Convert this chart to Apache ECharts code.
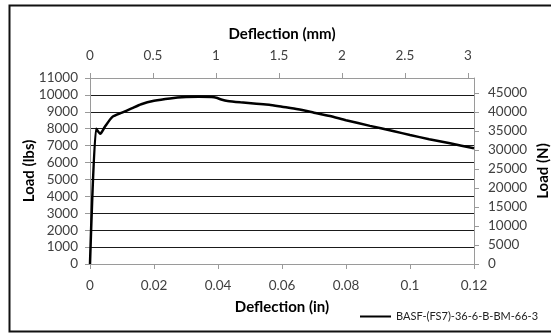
<!DOCTYPE html>
<html>
<head>
<meta charset="utf-8">
<script src="https://cdn.jsdelivr.net/npm/echarts@6/dist/echarts.min.js"></script>
<style>
  html, body { margin: 0; padding: 0; background: #fff; }
  #chart { width: 551px; height: 335px; }
</style>
</head>
<body>
<div id="chart"></div>
<script>
// Load–deflection record for one beam test (deflection in inches, load in lbs)
const seriesName = 'BASF-(FS7)-36-6-B-BM-66-3';
const deflectionIn = [0, 0.0019, 0.0032, 0.0046, 0.0070, 0.0100, 0.0130, 0.0160, 0.0200, 0.0250,
  0.0300, 0.0340, 0.0380, 0.0395, 0.0410, 0.0430, 0.0470, 0.0520, 0.0560, 0.0600,
  0.0650, 0.0700, 0.0750, 0.0800, 0.0875, 0.0950, 0.1000, 0.1060, 0.1125, 0.1200];
const loadLbs = [0, 8000, 7700, 8100, 8700, 8950, 9200, 9450, 9650, 9790,
  9870, 9890, 9870, 9830, 9730, 9640, 9560, 9480, 9420, 9300,
  9150, 8950, 8750, 8500, 8170, 7850, 7630, 7380, 7140, 6840];

// Axis ranges: primary in in / lbs, secondary converted to mm / N
const inMax = 0.12, inStep = 0.02;
const lbsMax = 11000, lbsStep = 1000;
const MM_PER_IN = 25.4, N_PER_LB = 4.448;
const mmStep = 0.5, nStep = 5000;

const font = 'Lato, "Open Sans", sans-serif';
const plain = v => String(+v.toFixed(4));
const labelStyle = { color: '#404040', fontSize: 13.5, fontFamily: font, formatter: plain };
const nameStyle = { color: '#000', fontSize: 15, fontWeight: 'bold', fontFamily: font };
const axisGray = { lineStyle: { color: '#9a9a9a', width: 1 } };

const chart = echarts.init(document.getElementById('chart'), null, { renderer: 'canvas' });
chart.setOption({
  animation: false,
  backgroundColor: '#fff',
  grid: { left: 90, right: 77, top: 78, bottom: 71, containLabel: false, outerBoundsMode: 'none' },
  graphic: [{
    type: 'rect', z: 100,
    shape: { x: 9.5, y: 5.5, width: 560, height: 326 },
    style: { fill: 'none', stroke: '#111', lineWidth: 2 }
  }],
  legend: {
    left: 355, top: 306,
    itemWidth: 31, itemHeight: 2, icon: 'rect', itemGap: 3,
    textStyle: { color: '#222', fontSize: 11, fontFamily: font },
    data: [seriesName]
  },
  xAxis: [{
    type: 'value', position: 'bottom',
    min: 0, max: inMax, interval: inStep,
    name: 'Deflection (in)', nameLocation: 'middle', nameGap: 36, nameMoveOverlap: false,
    nameTextStyle: nameStyle,
    axisLine: { show: true, onZero: false, ...axisGray },
    axisTick: { show: true, inside: false, length: 5, ...axisGray },
    axisLabel: { ...labelStyle, margin: 15 },
    splitLine: { show: false }
  }, {
    type: 'value', position: 'top',
    min: 0, max: inMax * MM_PER_IN, interval: mmStep,
    name: 'Deflection (mm)', nameLocation: 'middle', nameGap: 36, nameMoveOverlap: false,
    nameTextStyle: nameStyle,
    axisLine: { show: true, onZero: false, ...axisGray },
    axisTick: { show: true, inside: false, length: 5, ...axisGray },
    axisLabel: { ...labelStyle, margin: 15, showMaxLabel: false },
    splitLine: { show: false }
  }],
  yAxis: [{
    type: 'value', position: 'left',
    min: 0, max: lbsMax, interval: lbsStep,
    name: 'Load (lbs)', nameLocation: 'middle', nameGap: 53, nameRotate: 90, nameMoveOverlap: false,
    nameTextStyle: nameStyle,
    axisLine: { show: true, onZero: false, ...axisGray },
    axisTick: { show: true, inside: false, length: 5, ...axisGray },
    axisLabel: { ...labelStyle, margin: 12 },
    splitLine: { show: true, lineStyle: { color: '#1a1a1a', width: 1.2 } }
  }, {
    type: 'value', position: 'right',
    min: 0, max: lbsMax * N_PER_LB, interval: nStep,
    name: 'Load (N)', nameLocation: 'middle', nameGap: 62, nameRotate: 90, nameMoveOverlap: false,
    nameTextStyle: nameStyle,
    axisLine: { show: true, onZero: false, ...axisGray },
    axisTick: { show: true, inside: false, length: 5, ...axisGray },
    axisLabel: { ...labelStyle, margin: 14, showMaxLabel: false },
    splitLine: { show: false }
  }],
  series: [{
    name: seriesName,
    type: 'line',
    xAxisIndex: 0, yAxisIndex: 0,
    showSymbol: false, symbol: 'none',
    smooth: 0.2,
    lineStyle: { color: '#000', width: 2.5 },
    itemStyle: { color: '#000' },
    data: deflectionIn.map((d, i) => [d, loadLbs[i]])
  }]
});
</script>
</body>
</html>
